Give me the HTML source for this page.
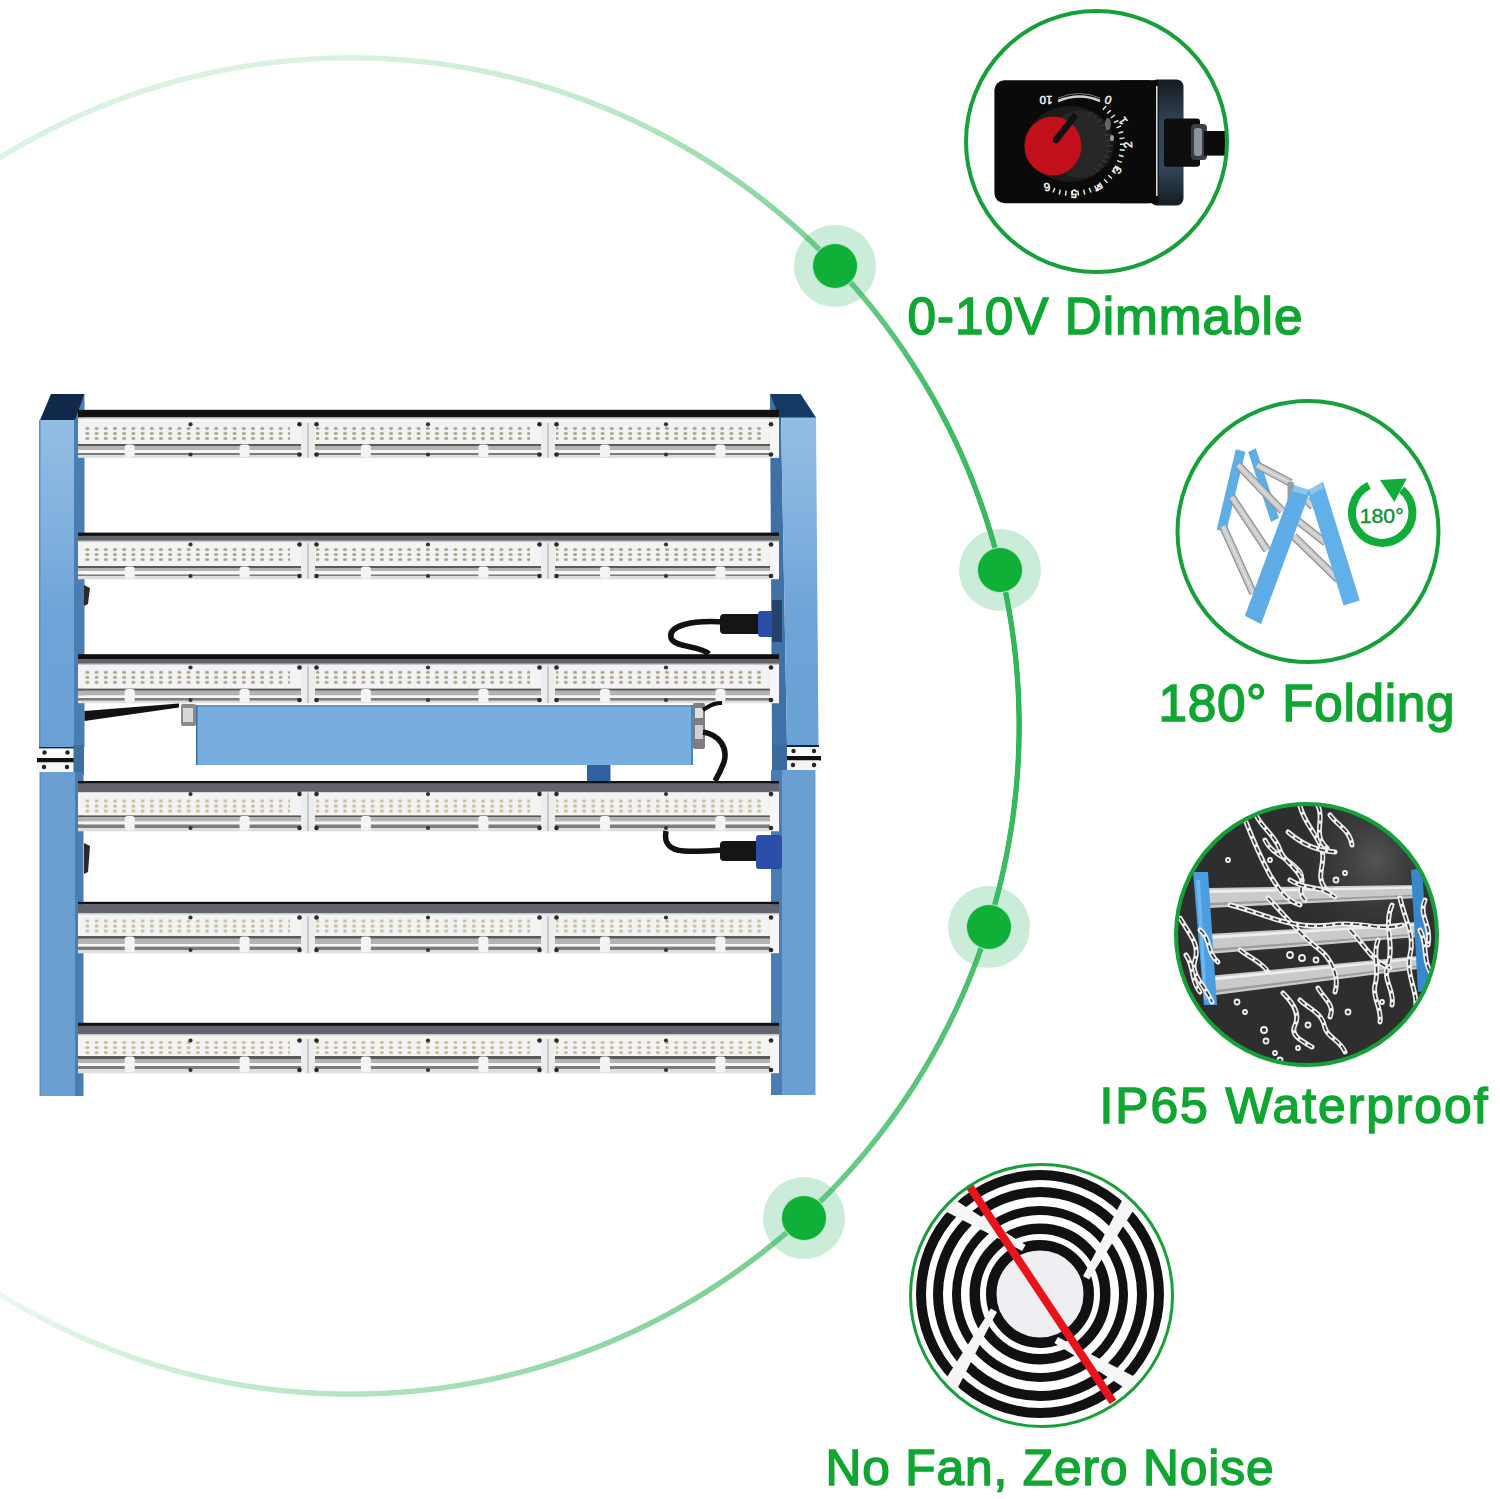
<!DOCTYPE html>
<html><head><meta charset="utf-8">
<style>
html,body{margin:0;padding:0;background:#fff;width:1500px;height:1499px;overflow:hidden}
svg{display:block;position:absolute;left:0;top:0}
text{font-family:"Liberation Sans",sans-serif}
</style></head>
<body>
<div id="arc" style="position:absolute;left:0;top:0;width:1500px;height:1499px;background:conic-gradient(from 0deg at 351px 726px, #dbf2e2 0deg, #c4ead0 20deg, #89d6a0 40deg, #42bc67 61deg, #2db556 90deg, #57c478 120deg, #90d8a5 158deg, #c8ecd3 193deg, #ecf8f0 212deg, #f4fbf7 270deg, #dbf2e2 328deg, #dbf2e2 360deg);-webkit-mask-image:radial-gradient(circle at 351px 726px, transparent 665px, #000 665.8px, #000 670.4px, transparent 671.2px);mask-image:radial-gradient(circle at 351px 726px, transparent 665px, #000 665.8px, #000 670.4px, transparent 671.2px);"></div>
<svg width="1500" height="1499" viewBox="0 0 1500 1499">

<defs>
  <linearGradient id="arcg" x1="0" y1="0" x2="1020" y2="0" gradientUnits="userSpaceOnUse">
    <stop offset="0" stop-color="#d6f0e4"/>
    <stop offset="0.57" stop-color="#bfe9d3"/>
    <stop offset="0.765" stop-color="#80d9a0"/>
    <stop offset="0.92" stop-color="#3cc060"/>
    <stop offset="1" stop-color="#2fb757"/>
  </linearGradient>
  <pattern id="leds" x="0" y="0" width="9" height="15" patternUnits="userSpaceOnUse">
    <ellipse cx="4.5" cy="2.5" rx="1.6" ry="1.2" fill="#d9cca8"/>
    <ellipse cx="4.5" cy="7.5" rx="1.6" ry="1.2" fill="#d9cca8"/>
    <ellipse cx="4.5" cy="12.5" rx="1.6" ry="1.2" fill="#d9cca8"/>
  </pattern>
  <linearGradient id="strip" x1="0" y1="0" x2="0" y2="1">
    <stop offset="0" stop-color="#0c0c0c"/>
    <stop offset="0.55" stop-color="#1c1c1c"/>
    <stop offset="1" stop-color="#6a6a6a"/>
  </linearGradient>
  <linearGradient id="postg" x1="0" y1="417" x2="0" y2="745" gradientUnits="userSpaceOnUse">
    <stop offset="0" stop-color="#94bde4"/>
    <stop offset="0.35" stop-color="#80b0de"/>
    <stop offset="0.6" stop-color="#6ea4d8"/>
    <stop offset="1" stop-color="#6aa2d6"/>
  </linearGradient>
  <clipPath id="c3"><circle cx="1306.5" cy="934.5" r="131"/></clipPath>
  <clipPath id="c4"><circle cx="1041.5" cy="1295.5" r="131"/></clipPath>
  <clipPath id="c1"><circle cx="1096.5" cy="141.5" r="130"/></clipPath>
</defs>

<circle cx="835" cy="266" r="41" fill="#36b46a" fill-opacity="0.26"/><circle cx="835" cy="266" r="23" fill="#aee8c2"/><circle cx="835" cy="266" r="22" fill="#0faf38"/>
<circle cx="1000" cy="570" r="41" fill="#36b46a" fill-opacity="0.26"/><circle cx="1000" cy="570" r="23" fill="#aee8c2"/><circle cx="1000" cy="570" r="22" fill="#0faf38"/>
<circle cx="989" cy="927" r="41" fill="#36b46a" fill-opacity="0.26"/><circle cx="989" cy="927" r="23" fill="#aee8c2"/><circle cx="989" cy="927" r="22" fill="#0faf38"/>
<circle cx="804" cy="1218" r="41" fill="#36b46a" fill-opacity="0.26"/><circle cx="804" cy="1218" r="23" fill="#aee8c2"/><circle cx="804" cy="1218" r="22" fill="#0faf38"/>
<g id="posts">
<polygon points="74,420 84.5,394 84.5,747 74,747" fill="#4a7db2"/>
<rect x="39.5" y="420" width="34.5" height="327" fill="url(#postg)"/>
<rect x="39" y="420" width="1.5" height="327" fill="#5d8fc3"/>
<polygon points="51,394 84.5,394 75,420 40,420" fill="#10294a"/>
<rect x="73" y="745" width="11" height="30" fill="#3f6f9f"/>
<rect x="39" y="747" width="34.5" height="1.8" fill="#0d2440"/>
<rect x="39" y="748.5" width="34.5" height="9.5" fill="#fbfbfb"/>
<rect x="37" y="758" width="36.5" height="4.5" fill="#111"/>
<rect x="37" y="762.5" width="36.5" height="9.5" fill="#f7f7f7"/>
<circle cx="44.5" cy="752.5" r="2.2" fill="#222"/>
<circle cx="67.5" cy="752.5" r="2.2" fill="#222"/>
<circle cx="44" cy="767" r="2.2" fill="#222"/>
<circle cx="67" cy="767" r="2.2" fill="#222"/>
<polygon points="75,772 83.5,772 83.5,1096 75,1096" fill="#4a7db2"/>
<rect x="40" y="772" width="35" height="324" fill="#6aa0d1"/>
<rect x="39.5" y="772" width="1.5" height="324" fill="#5d8fc3"/>
<polygon points="770,394 781,417 787,745 772,745" fill="#3f70a6"/>
<polygon points="781,417 816,417 818.5,745 787,745" fill="url(#postg)"/>
<polygon points="770,394 800.6,394 816,417.5 779.5,417.5" fill="#143a66"/>
<rect x="772" y="745" width="15" height="27" fill="#3a6a9e"/>
<rect x="787" y="745" width="32" height="2" fill="#0d2440"/>
<rect x="787" y="747" width="32" height="9" fill="#fafafa"/>
<rect x="787" y="756" width="34" height="4.5" fill="#111"/>
<rect x="787" y="760.5" width="32" height="9" fill="#f4f4f4"/>
<circle cx="793.5" cy="751" r="2.2" fill="#222"/>
<circle cx="814" cy="751" r="2.2" fill="#222"/>
<circle cx="793" cy="765" r="2.2" fill="#222"/>
<circle cx="814" cy="765" r="2.2" fill="#222"/>
<polygon points="771,770 782,770 782,1095 771,1095" fill="#4a7db2"/>
<rect x="782" y="770" width="33.5" height="325" fill="#6aa0d1"/>
</g>
<g>
<rect x="78" y="409.8" width="701" height="7.8" fill="#111"/>
<rect x="78" y="417.3" width="701" height="5.8" fill="#c9c9c9"/>
<rect x="78" y="418.8" width="701" height="4.0" fill="#f6f6f6"/>
<rect x="78" y="422.8" width="701" height="21.5" fill="#f3f3f3"/>
<rect x="78" y="444.0" width="701" height="2.3" fill="#5a5a5a"/>
<rect x="78" y="446.0" width="701" height="4.3" fill="#b4b4b4"/>
<rect x="78" y="450.0" width="701" height="3.3" fill="#f6f6f6"/>
<rect x="78" y="453.0" width="701" height="2.3" fill="#7c7c7c"/>
<rect x="78" y="455.0" width="701" height="2.8" fill="#dedede"/>
<pattern id="led0" x="0" y="425.9" width="9.2" height="15" patternUnits="userSpaceOnUse"><ellipse cx="4.6" cy="2.5" rx="2.1" ry="1.5" fill="#aaa488"/><ellipse cx="4.6" cy="7.5" rx="2.1" ry="1.5" fill="#aaa488"/><ellipse cx="4.6" cy="12.5" rx="2.1" ry="1.5" fill="#aaa488"/></pattern>
<rect x="81" y="425.9" width="209" height="15" fill="url(#led0)"/>
<circle cx="190.5" cy="424.3" r="2.1" fill="#333"/>
<circle cx="190.5" cy="454.5" r="2.1" fill="#333"/>
<rect x="124.7" y="444.5" width="10" height="12.5" rx="3" fill="#f4f4f4"/>
<rect x="239.6" y="444.5" width="10" height="12.5" rx="3" fill="#f4f4f4"/>
<rect x="316" y="425.9" width="214" height="15" fill="url(#led0)"/>
<circle cx="428.0" cy="424.3" r="2.1" fill="#333"/>
<circle cx="428.0" cy="454.5" r="2.1" fill="#333"/>
<rect x="360.9" y="444.5" width="10" height="12.5" rx="3" fill="#f4f4f4"/>
<rect x="478.4" y="444.5" width="10" height="12.5" rx="3" fill="#f4f4f4"/>
<rect x="556" y="425.9" width="210" height="15" fill="url(#led0)"/>
<circle cx="666.0" cy="424.3" r="2.1" fill="#333"/>
<circle cx="666.0" cy="454.5" r="2.1" fill="#333"/>
<rect x="600.0" y="444.5" width="10" height="12.5" rx="3" fill="#f4f4f4"/>
<rect x="715.4" y="444.5" width="10" height="12.5" rx="3" fill="#f4f4f4"/>
<rect x="301" y="421.8" width="14" height="35.7" fill="#ededed"/>
<rect x="307.4" y="422.8" width="1.2" height="34.7" fill="#b0b0b0"/>
<circle cx="299.5" cy="424.3" r="2.3" fill="#2a2a2a"/>
<circle cx="299.5" cy="454.5" r="2.3" fill="#2a2a2a"/>
<circle cx="316.5" cy="424.3" r="2.3" fill="#2a2a2a"/>
<circle cx="316.5" cy="454.5" r="2.3" fill="#2a2a2a"/>
<rect x="541" y="421.8" width="14" height="35.7" fill="#ededed"/>
<rect x="547.4" y="422.8" width="1.2" height="34.7" fill="#b0b0b0"/>
<circle cx="539.5" cy="424.3" r="2.3" fill="#2a2a2a"/>
<circle cx="539.5" cy="454.5" r="2.3" fill="#2a2a2a"/>
<circle cx="556.5" cy="424.3" r="2.3" fill="#2a2a2a"/>
<circle cx="556.5" cy="454.5" r="2.3" fill="#2a2a2a"/>
<rect x="770" y="421.8" width="9" height="35.7" fill="#f6f6f6"/>
<circle cx="771" cy="424.3" r="2.3" fill="#2a2a2a"/>
<circle cx="771" cy="454.5" r="2.3" fill="#2a2a2a"/>
</g>
<g>
<rect x="78" y="532.6" width="701" height="3.5" fill="#111"/>
<rect x="78" y="535.8" width="701" height="5.1" fill="#62656d"/>
<rect x="78" y="540.6" width="701" height="2.7" fill="#c9c9c9"/>
<rect x="78" y="542.1" width="701" height="0.9" fill="#f6f6f6"/>
<rect x="78" y="543.0" width="701" height="23.3" fill="#f3f3f3"/>
<rect x="78" y="566.0" width="701" height="2.3" fill="#5a5a5a"/>
<rect x="78" y="568.0" width="701" height="3.3" fill="#b4b4b4"/>
<rect x="78" y="571.0" width="701" height="3.8" fill="#f6f6f6"/>
<rect x="78" y="574.5" width="701" height="1.8" fill="#7c7c7c"/>
<rect x="78" y="576.0" width="701" height="3.3" fill="#dedede"/>
<pattern id="led1" x="0" y="547.0" width="9.2" height="15" patternUnits="userSpaceOnUse"><ellipse cx="4.6" cy="2.5" rx="2.1" ry="1.5" fill="#aaa488"/><ellipse cx="4.6" cy="7.5" rx="2.1" ry="1.5" fill="#aaa488"/><ellipse cx="4.6" cy="12.5" rx="2.1" ry="1.5" fill="#aaa488"/></pattern>
<rect x="81" y="547.0" width="209" height="15" fill="url(#led1)"/>
<circle cx="190.5" cy="544.5" r="2.1" fill="#333"/>
<circle cx="190.5" cy="576.0" r="2.1" fill="#333"/>
<rect x="124.7" y="566.5" width="10" height="12.0" rx="3" fill="#f4f4f4"/>
<rect x="239.6" y="566.5" width="10" height="12.0" rx="3" fill="#f4f4f4"/>
<rect x="316" y="547.0" width="214" height="15" fill="url(#led1)"/>
<circle cx="428.0" cy="544.5" r="2.1" fill="#333"/>
<circle cx="428.0" cy="576.0" r="2.1" fill="#333"/>
<rect x="360.9" y="566.5" width="10" height="12.0" rx="3" fill="#f4f4f4"/>
<rect x="478.4" y="566.5" width="10" height="12.0" rx="3" fill="#f4f4f4"/>
<rect x="556" y="547.0" width="210" height="15" fill="url(#led1)"/>
<circle cx="666.0" cy="544.5" r="2.1" fill="#333"/>
<circle cx="666.0" cy="576.0" r="2.1" fill="#333"/>
<rect x="600.0" y="566.5" width="10" height="12.0" rx="3" fill="#f4f4f4"/>
<rect x="715.4" y="566.5" width="10" height="12.0" rx="3" fill="#f4f4f4"/>
<rect x="301" y="542.0" width="14" height="37.0" fill="#ededed"/>
<rect x="307.4" y="543.0" width="1.2" height="36.0" fill="#b0b0b0"/>
<circle cx="299.5" cy="544.5" r="2.3" fill="#2a2a2a"/>
<circle cx="299.5" cy="576.0" r="2.3" fill="#2a2a2a"/>
<circle cx="316.5" cy="544.5" r="2.3" fill="#2a2a2a"/>
<circle cx="316.5" cy="576.0" r="2.3" fill="#2a2a2a"/>
<rect x="541" y="542.0" width="14" height="37.0" fill="#ededed"/>
<rect x="547.4" y="543.0" width="1.2" height="36.0" fill="#b0b0b0"/>
<circle cx="539.5" cy="544.5" r="2.3" fill="#2a2a2a"/>
<circle cx="539.5" cy="576.0" r="2.3" fill="#2a2a2a"/>
<circle cx="556.5" cy="544.5" r="2.3" fill="#2a2a2a"/>
<circle cx="556.5" cy="576.0" r="2.3" fill="#2a2a2a"/>
<rect x="770" y="542.0" width="9" height="37.0" fill="#f6f6f6"/>
<circle cx="771" cy="544.5" r="2.3" fill="#2a2a2a"/>
<circle cx="771" cy="576.0" r="2.3" fill="#2a2a2a"/>
</g>
<g>
<rect x="78" y="654.2" width="701" height="5.1" fill="#111"/>
<rect x="78" y="659.0" width="701" height="4.9" fill="#62656d"/>
<rect x="78" y="663.6" width="701" height="2.7" fill="#c9c9c9"/>
<rect x="78" y="665.1" width="701" height="0.9" fill="#f6f6f6"/>
<rect x="78" y="666.0" width="701" height="22.9" fill="#f3f3f3"/>
<rect x="78" y="688.6" width="701" height="2.3" fill="#5a5a5a"/>
<rect x="78" y="690.6" width="701" height="5.1" fill="#b4b4b4"/>
<rect x="78" y="695.4" width="701" height="2.9" fill="#f6f6f6"/>
<rect x="78" y="698.0" width="701" height="2.9" fill="#7c7c7c"/>
<rect x="78" y="700.6" width="701" height="2.7" fill="#dedede"/>
<pattern id="led2" x="0" y="669.8" width="9.2" height="15" patternUnits="userSpaceOnUse"><ellipse cx="4.6" cy="2.5" rx="2.1" ry="1.5" fill="#aaa488"/><ellipse cx="4.6" cy="7.5" rx="2.1" ry="1.5" fill="#aaa488"/><ellipse cx="4.6" cy="12.5" rx="2.1" ry="1.5" fill="#aaa488"/></pattern>
<rect x="81" y="669.8" width="209" height="15" fill="url(#led2)"/>
<circle cx="190.5" cy="667.5" r="2.1" fill="#333"/>
<circle cx="190.5" cy="700.0" r="2.1" fill="#333"/>
<rect x="124.7" y="689.1" width="10" height="13.4" rx="3" fill="#f4f4f4"/>
<rect x="239.6" y="689.1" width="10" height="13.4" rx="3" fill="#f4f4f4"/>
<rect x="316" y="669.8" width="214" height="15" fill="url(#led2)"/>
<circle cx="428.0" cy="667.5" r="2.1" fill="#333"/>
<circle cx="428.0" cy="700.0" r="2.1" fill="#333"/>
<rect x="360.9" y="689.1" width="10" height="13.4" rx="3" fill="#f4f4f4"/>
<rect x="478.4" y="689.1" width="10" height="13.4" rx="3" fill="#f4f4f4"/>
<rect x="556" y="669.8" width="210" height="15" fill="url(#led2)"/>
<circle cx="666.0" cy="667.5" r="2.1" fill="#333"/>
<circle cx="666.0" cy="700.0" r="2.1" fill="#333"/>
<rect x="600.0" y="689.1" width="10" height="13.4" rx="3" fill="#f4f4f4"/>
<rect x="715.4" y="689.1" width="10" height="13.4" rx="3" fill="#f4f4f4"/>
<rect x="301" y="665.0" width="14" height="38.0" fill="#ededed"/>
<rect x="307.4" y="666.0" width="1.2" height="37.0" fill="#b0b0b0"/>
<circle cx="299.5" cy="667.5" r="2.3" fill="#2a2a2a"/>
<circle cx="299.5" cy="700.0" r="2.3" fill="#2a2a2a"/>
<circle cx="316.5" cy="667.5" r="2.3" fill="#2a2a2a"/>
<circle cx="316.5" cy="700.0" r="2.3" fill="#2a2a2a"/>
<rect x="541" y="665.0" width="14" height="38.0" fill="#ededed"/>
<rect x="547.4" y="666.0" width="1.2" height="37.0" fill="#b0b0b0"/>
<circle cx="539.5" cy="667.5" r="2.3" fill="#2a2a2a"/>
<circle cx="539.5" cy="700.0" r="2.3" fill="#2a2a2a"/>
<circle cx="556.5" cy="667.5" r="2.3" fill="#2a2a2a"/>
<circle cx="556.5" cy="700.0" r="2.3" fill="#2a2a2a"/>
<rect x="770" y="665.0" width="9" height="38.0" fill="#f6f6f6"/>
<circle cx="771" cy="667.5" r="2.3" fill="#2a2a2a"/>
<circle cx="771" cy="700.0" r="2.3" fill="#2a2a2a"/>
</g>
<g>
<rect x="78" y="781.0" width="701" height="2.8" fill="#111"/>
<rect x="78" y="783.5" width="701" height="8.8" fill="#62656d"/>
<rect x="78" y="792.0" width="701" height="0.9" fill="#c9c9c9"/>
<rect x="78" y="792.6" width="701" height="23.1" fill="#f3f3f3"/>
<rect x="78" y="815.4" width="701" height="1.9" fill="#5a5a5a"/>
<rect x="78" y="817.0" width="701" height="4.8" fill="#b4b4b4"/>
<rect x="78" y="821.5" width="701" height="3.3" fill="#f6f6f6"/>
<rect x="78" y="824.5" width="701" height="3.8" fill="#7c7c7c"/>
<rect x="78" y="828.0" width="701" height="3.3" fill="#dedede"/>
<pattern id="led3" x="0" y="798.5" width="9.2" height="15" patternUnits="userSpaceOnUse"><ellipse cx="4.6" cy="2.5" rx="2.1" ry="1.5" fill="#c9bc9c"/><ellipse cx="4.6" cy="7.5" rx="2.1" ry="1.5" fill="#c9bc9c"/><ellipse cx="4.6" cy="12.5" rx="2.1" ry="1.5" fill="#c9bc9c"/></pattern>
<rect x="81" y="798.5" width="209" height="15" fill="url(#led3)"/>
<circle cx="190.5" cy="794.1" r="2.1" fill="#333"/>
<circle cx="190.5" cy="828.0" r="2.1" fill="#333"/>
<rect x="124.7" y="815.9" width="10" height="14.6" rx="3" fill="#f4f4f4"/>
<rect x="239.6" y="815.9" width="10" height="14.6" rx="3" fill="#f4f4f4"/>
<rect x="316" y="798.5" width="214" height="15" fill="url(#led3)"/>
<circle cx="428.0" cy="794.1" r="2.1" fill="#333"/>
<circle cx="428.0" cy="828.0" r="2.1" fill="#333"/>
<rect x="360.9" y="815.9" width="10" height="14.6" rx="3" fill="#f4f4f4"/>
<rect x="478.4" y="815.9" width="10" height="14.6" rx="3" fill="#f4f4f4"/>
<rect x="556" y="798.5" width="210" height="15" fill="url(#led3)"/>
<circle cx="666.0" cy="794.1" r="2.1" fill="#333"/>
<circle cx="666.0" cy="828.0" r="2.1" fill="#333"/>
<rect x="600.0" y="815.9" width="10" height="14.6" rx="3" fill="#f4f4f4"/>
<rect x="715.4" y="815.9" width="10" height="14.6" rx="3" fill="#f4f4f4"/>
<rect x="301" y="791.6" width="14" height="39.4" fill="#ededed"/>
<rect x="307.4" y="792.6" width="1.2" height="38.4" fill="#b0b0b0"/>
<circle cx="299.5" cy="794.1" r="2.3" fill="#2a2a2a"/>
<circle cx="299.5" cy="828.0" r="2.3" fill="#2a2a2a"/>
<circle cx="316.5" cy="794.1" r="2.3" fill="#2a2a2a"/>
<circle cx="316.5" cy="828.0" r="2.3" fill="#2a2a2a"/>
<rect x="541" y="791.6" width="14" height="39.4" fill="#ededed"/>
<rect x="547.4" y="792.6" width="1.2" height="38.4" fill="#b0b0b0"/>
<circle cx="539.5" cy="794.1" r="2.3" fill="#2a2a2a"/>
<circle cx="539.5" cy="828.0" r="2.3" fill="#2a2a2a"/>
<circle cx="556.5" cy="794.1" r="2.3" fill="#2a2a2a"/>
<circle cx="556.5" cy="828.0" r="2.3" fill="#2a2a2a"/>
<rect x="770" y="791.6" width="9" height="39.4" fill="#f6f6f6"/>
<circle cx="771" cy="794.1" r="2.3" fill="#2a2a2a"/>
<circle cx="771" cy="828.0" r="2.3" fill="#2a2a2a"/>
</g>
<g>
<rect x="78" y="901.8" width="701" height="2.8" fill="#111"/>
<rect x="78" y="904.3" width="701" height="9.0" fill="#62656d"/>
<rect x="78" y="913.0" width="701" height="3.3" fill="#c9c9c9"/>
<rect x="78" y="914.5" width="701" height="1.5" fill="#f6f6f6"/>
<rect x="78" y="916.0" width="701" height="20.3" fill="#f3f3f3"/>
<rect x="78" y="936.0" width="701" height="2.9" fill="#5a5a5a"/>
<rect x="78" y="938.6" width="701" height="5.7" fill="#b4b4b4"/>
<rect x="78" y="944.0" width="701" height="2.9" fill="#f6f6f6"/>
<rect x="78" y="946.6" width="701" height="3.7" fill="#7c7c7c"/>
<rect x="78" y="950.0" width="701" height="3.3" fill="#dedede"/>
<pattern id="led4" x="0" y="918.5" width="9.2" height="15" patternUnits="userSpaceOnUse"><ellipse cx="4.6" cy="2.5" rx="2.1" ry="1.5" fill="#c9bc9c"/><ellipse cx="4.6" cy="7.5" rx="2.1" ry="1.5" fill="#c9bc9c"/><ellipse cx="4.6" cy="12.5" rx="2.1" ry="1.5" fill="#c9bc9c"/></pattern>
<rect x="81" y="918.5" width="209" height="15" fill="url(#led4)"/>
<circle cx="190.5" cy="917.5" r="2.1" fill="#333"/>
<circle cx="190.5" cy="950.0" r="2.1" fill="#333"/>
<rect x="124.7" y="936.5" width="10" height="16.0" rx="3" fill="#f4f4f4"/>
<rect x="239.6" y="936.5" width="10" height="16.0" rx="3" fill="#f4f4f4"/>
<rect x="316" y="918.5" width="214" height="15" fill="url(#led4)"/>
<circle cx="428.0" cy="917.5" r="2.1" fill="#333"/>
<circle cx="428.0" cy="950.0" r="2.1" fill="#333"/>
<rect x="360.9" y="936.5" width="10" height="16.0" rx="3" fill="#f4f4f4"/>
<rect x="478.4" y="936.5" width="10" height="16.0" rx="3" fill="#f4f4f4"/>
<rect x="556" y="918.5" width="210" height="15" fill="url(#led4)"/>
<circle cx="666.0" cy="917.5" r="2.1" fill="#333"/>
<circle cx="666.0" cy="950.0" r="2.1" fill="#333"/>
<rect x="600.0" y="936.5" width="10" height="16.0" rx="3" fill="#f4f4f4"/>
<rect x="715.4" y="936.5" width="10" height="16.0" rx="3" fill="#f4f4f4"/>
<rect x="301" y="915.0" width="14" height="38.0" fill="#ededed"/>
<rect x="307.4" y="916.0" width="1.2" height="37.0" fill="#b0b0b0"/>
<circle cx="299.5" cy="917.5" r="2.3" fill="#2a2a2a"/>
<circle cx="299.5" cy="950.0" r="2.3" fill="#2a2a2a"/>
<circle cx="316.5" cy="917.5" r="2.3" fill="#2a2a2a"/>
<circle cx="316.5" cy="950.0" r="2.3" fill="#2a2a2a"/>
<rect x="541" y="915.0" width="14" height="38.0" fill="#ededed"/>
<rect x="547.4" y="916.0" width="1.2" height="37.0" fill="#b0b0b0"/>
<circle cx="539.5" cy="917.5" r="2.3" fill="#2a2a2a"/>
<circle cx="539.5" cy="950.0" r="2.3" fill="#2a2a2a"/>
<circle cx="556.5" cy="917.5" r="2.3" fill="#2a2a2a"/>
<circle cx="556.5" cy="950.0" r="2.3" fill="#2a2a2a"/>
<rect x="770" y="915.0" width="9" height="38.0" fill="#f6f6f6"/>
<circle cx="771" cy="917.5" r="2.3" fill="#2a2a2a"/>
<circle cx="771" cy="950.0" r="2.3" fill="#2a2a2a"/>
</g>
<g>
<rect x="78" y="1022.8" width="701" height="3.3" fill="#111"/>
<rect x="78" y="1025.8" width="701" height="8.5" fill="#62656d"/>
<rect x="78" y="1034.0" width="701" height="5.3" fill="#c9c9c9"/>
<rect x="78" y="1035.5" width="701" height="3.5" fill="#f6f6f6"/>
<rect x="78" y="1039.0" width="701" height="17.3" fill="#f3f3f3"/>
<rect x="78" y="1056.0" width="701" height="3.3" fill="#5a5a5a"/>
<rect x="78" y="1059.0" width="701" height="4.3" fill="#b4b4b4"/>
<rect x="78" y="1063.0" width="701" height="3.3" fill="#f6f6f6"/>
<rect x="78" y="1066.0" width="701" height="3.3" fill="#7c7c7c"/>
<rect x="78" y="1069.0" width="701" height="4.3" fill="#dedede"/>
<pattern id="led5" x="0" y="1040.0" width="9.2" height="15" patternUnits="userSpaceOnUse"><ellipse cx="4.6" cy="2.5" rx="2.1" ry="1.5" fill="#c9bc9c"/><ellipse cx="4.6" cy="7.5" rx="2.1" ry="1.5" fill="#c9bc9c"/><ellipse cx="4.6" cy="12.5" rx="2.1" ry="1.5" fill="#c9bc9c"/></pattern>
<rect x="81" y="1040.0" width="209" height="15" fill="url(#led5)"/>
<circle cx="190.5" cy="1040.5" r="2.1" fill="#333"/>
<circle cx="190.5" cy="1070.0" r="2.1" fill="#333"/>
<rect x="124.7" y="1056.5" width="10" height="16.0" rx="3" fill="#f4f4f4"/>
<rect x="239.6" y="1056.5" width="10" height="16.0" rx="3" fill="#f4f4f4"/>
<rect x="316" y="1040.0" width="214" height="15" fill="url(#led5)"/>
<circle cx="428.0" cy="1040.5" r="2.1" fill="#333"/>
<circle cx="428.0" cy="1070.0" r="2.1" fill="#333"/>
<rect x="360.9" y="1056.5" width="10" height="16.0" rx="3" fill="#f4f4f4"/>
<rect x="478.4" y="1056.5" width="10" height="16.0" rx="3" fill="#f4f4f4"/>
<rect x="556" y="1040.0" width="210" height="15" fill="url(#led5)"/>
<circle cx="666.0" cy="1040.5" r="2.1" fill="#333"/>
<circle cx="666.0" cy="1070.0" r="2.1" fill="#333"/>
<rect x="600.0" y="1056.5" width="10" height="16.0" rx="3" fill="#f4f4f4"/>
<rect x="715.4" y="1056.5" width="10" height="16.0" rx="3" fill="#f4f4f4"/>
<rect x="301" y="1038.0" width="14" height="35.0" fill="#ededed"/>
<rect x="307.4" y="1039.0" width="1.2" height="34.0" fill="#b0b0b0"/>
<circle cx="299.5" cy="1040.5" r="2.3" fill="#2a2a2a"/>
<circle cx="299.5" cy="1070.0" r="2.3" fill="#2a2a2a"/>
<circle cx="316.5" cy="1040.5" r="2.3" fill="#2a2a2a"/>
<circle cx="316.5" cy="1070.0" r="2.3" fill="#2a2a2a"/>
<rect x="541" y="1038.0" width="14" height="35.0" fill="#ededed"/>
<rect x="547.4" y="1039.0" width="1.2" height="34.0" fill="#b0b0b0"/>
<circle cx="539.5" cy="1040.5" r="2.3" fill="#2a2a2a"/>
<circle cx="539.5" cy="1070.0" r="2.3" fill="#2a2a2a"/>
<circle cx="556.5" cy="1040.5" r="2.3" fill="#2a2a2a"/>
<circle cx="556.5" cy="1070.0" r="2.3" fill="#2a2a2a"/>
<rect x="770" y="1038.0" width="9" height="35.0" fill="#f6f6f6"/>
<circle cx="771" cy="1040.5" r="2.3" fill="#2a2a2a"/>
<circle cx="771" cy="1070.0" r="2.3" fill="#2a2a2a"/>
</g>
<g id="driver">
<rect x="587" y="764" width="23.5" height="17" fill="#2d63a0"/>
<rect x="196" y="705" width="497" height="60" fill="#78addf"/>
<rect x="196" y="705" width="497" height="2" fill="#5f95cb"/>
<rect x="196" y="705" width="1.5" height="60" fill="#3c6ea6"/>
<rect x="691" y="705" width="2" height="60" fill="#4f85bd"/>
<rect x="181" y="704" width="15" height="22" rx="2" fill="#8a8a8a"/>
<rect x="183" y="708" width="10" height="14" fill="#d8d8d8"/>
<polygon points="84.5,711 179,703.5 179,707.5 84.5,721" fill="#121212"/>
<rect x="693" y="703" width="12" height="46" rx="2" fill="#7e7e7e"/>
<rect x="695" y="708" width="8" height="10" fill="#e0e0e0"/>
<rect x="695" y="725" width="8" height="14" fill="#d0d0d0"/>
<path d="M703,710 C712,704 716,703 722,703" stroke="#111" stroke-width="4" fill="none"/>
<path d="M703,732 C720,735 728,748 724,762 C721,770 718,776 715,781" stroke="#111" stroke-width="5.5" fill="none"/>
</g>
<g id="conn1">
<path d="M724,622 C690,620 668,626 671,638 C674,648 700,645 709,654" stroke="#111" stroke-width="5.5" fill="none"/>
<rect x="720" y="614" width="42" height="20" rx="4" fill="#151515"/>
<rect x="758" y="611" width="23" height="26" rx="3" fill="#2b4ea8"/>
<rect x="772" y="600" width="10" height="42" fill="#26436e"/>
</g>
<g id="conn2">
<path d="M666,831 C664,842 668,850 684,851 C700,852 710,851 724,850" stroke="#111" stroke-width="5.5" fill="none"/>
<rect x="720" y="841" width="42" height="20" rx="4" fill="#151515"/>
<rect x="756" y="835" width="26" height="34" rx="3" fill="#2b4ea8"/>
</g>
<path d="M84,585 L90,588 L88,604 L84,606 Z" fill="#2a2a2a"/>
<path d="M84,843 L90,846 L88,872 L84,874 Z" fill="#2a2a2a"/>
<g id="dimmer">
<linearGradient id="sidegr" x1="0" y1="0" x2="0" y2="1"><stop offset="0" stop-color="#141a20"/><stop offset="0.3" stop-color="#2f4152"/><stop offset="0.7" stop-color="#31465a"/><stop offset="1" stop-color="#151b22"/></linearGradient>
<rect x="1150" y="79.5" width="33.5" height="126" rx="7" fill="url(#sidegr)"/>
<rect x="994.4" y="80.2" width="164" height="123" rx="10" fill="#0a0a0a"/>
<rect x="1120" y="80.2" width="38.4" height="123" fill="#0a0a0a"/>
<rect x="1156" y="86" width="1.6" height="110" fill="#d8d8d8"/>
<rect x="1164" y="118.4" width="36" height="48.3" rx="3" fill="#0d0d0d"/>
<rect x="1191" y="124" width="16" height="36" rx="4" fill="#3a3f46"/>
<rect x="1194" y="128" width="8" height="28" rx="3" fill="#8d939b"/>
<rect x="1204" y="131" width="22" height="24.6" fill="#0b0b0b"/>
<ellipse cx="1070" cy="144" rx="44" ry="38" fill="#1b1b1b"/>
<ellipse cx="1080" cy="144" rx="30" ry="34" fill="#262626"/>
<line x1="1088.0" y1="116.3" x2="1091.5" y2="112.0" stroke="#3c3c3c" stroke-width="1"/>
<line x1="1092.7" y1="119.1" x2="1097.1" y2="115.2" stroke="#3c3c3c" stroke-width="1"/>
<line x1="1096.8" y1="122.6" x2="1102.0" y2="119.2" stroke="#3c3c3c" stroke-width="1"/>
<line x1="1100.2" y1="126.6" x2="1106.1" y2="123.8" stroke="#3c3c3c" stroke-width="1"/>
<line x1="1102.9" y1="131.0" x2="1109.3" y2="129.0" stroke="#3c3c3c" stroke-width="1"/>
<line x1="1104.8" y1="135.7" x2="1111.5" y2="134.4" stroke="#3c3c3c" stroke-width="1"/>
<line x1="1105.8" y1="140.7" x2="1112.8" y2="140.1" stroke="#3c3c3c" stroke-width="1"/>
<line x1="1106.0" y1="145.7" x2="1112.9" y2="145.9" stroke="#3c3c3c" stroke-width="1"/>
<line x1="1105.2" y1="150.7" x2="1112.1" y2="151.7" stroke="#3c3c3c" stroke-width="1"/>
<line x1="1103.6" y1="155.5" x2="1110.1" y2="157.3" stroke="#3c3c3c" stroke-width="1"/>
<line x1="1101.2" y1="160.0" x2="1107.2" y2="162.5" stroke="#3c3c3c" stroke-width="1"/>
<line x1="1098.0" y1="164.1" x2="1103.4" y2="167.3" stroke="#3c3c3c" stroke-width="1"/>
<line x1="1094.1" y1="167.8" x2="1098.8" y2="171.5" stroke="#3c3c3c" stroke-width="1"/>
<line x1="1089.6" y1="170.8" x2="1093.4" y2="175.0" stroke="#3c3c3c" stroke-width="1"/>
<ellipse cx="1108" cy="124" rx="3" ry="6" fill="#8a8a8a" opacity="0.7"/>
<ellipse cx="1112" cy="138" rx="2" ry="3" fill="#bdbdbd" opacity="0.8"/>
<ellipse cx="1052.9" cy="145.9" rx="28.5" ry="29.5" fill="#c10f1c"/>
<line x1="1056" y1="140" x2="1074" y2="117" stroke="#111" stroke-width="6.5" stroke-linecap="round"/>
<path d="M1058,101 Q1080,92 1100,101" stroke="#d0d0d0" stroke-width="2.5" fill="none"/>
<path d="M1058,98 Q1080,89 1100,98" stroke="#777" stroke-width="1" fill="none"/>
<line x1="1102.9" y1="109.8" x2="1106.1" y2="105.9" stroke="#f2f2f2" stroke-width="1.4"/>
<line x1="1107.1" y1="113.6" x2="1110.8" y2="110.2" stroke="#f2f2f2" stroke-width="1.4"/>
<line x1="1110.8" y1="118.0" x2="1114.9" y2="115.0" stroke="#f2f2f2" stroke-width="1.4"/>
<line x1="1114.0" y1="122.7" x2="1118.4" y2="120.3" stroke="#f2f2f2" stroke-width="1.4"/>
<line x1="1116.5" y1="127.8" x2="1121.1" y2="125.9" stroke="#f2f2f2" stroke-width="1.4"/>
<line x1="1118.4" y1="133.1" x2="1123.2" y2="131.8" stroke="#f2f2f2" stroke-width="1.4"/>
<line x1="1119.5" y1="138.6" x2="1124.5" y2="137.9" stroke="#f2f2f2" stroke-width="1.4"/>
<line x1="1120.0" y1="144.2" x2="1125.0" y2="144.1" stroke="#f2f2f2" stroke-width="1.4"/>
<line x1="1119.7" y1="149.8" x2="1124.7" y2="150.3" stroke="#f2f2f2" stroke-width="1.4"/>
<line x1="1118.8" y1="155.3" x2="1123.6" y2="156.5" stroke="#f2f2f2" stroke-width="1.4"/>
<line x1="1117.1" y1="160.7" x2="1121.8" y2="162.4" stroke="#f2f2f2" stroke-width="1.4"/>
<line x1="1114.8" y1="165.9" x2="1119.2" y2="168.2" stroke="#f2f2f2" stroke-width="1.4"/>
<line x1="1111.8" y1="170.7" x2="1115.9" y2="173.5" stroke="#f2f2f2" stroke-width="1.4"/>
<line x1="1108.2" y1="175.2" x2="1112.0" y2="178.5" stroke="#f2f2f2" stroke-width="1.4"/>
<line x1="1104.1" y1="179.2" x2="1107.5" y2="182.9" stroke="#f2f2f2" stroke-width="1.4"/>
<line x1="1099.5" y1="182.7" x2="1102.4" y2="186.8" stroke="#f2f2f2" stroke-width="1.4"/>
<line x1="1094.5" y1="185.6" x2="1096.9" y2="190.0" stroke="#f2f2f2" stroke-width="1.4"/>
<line x1="1089.2" y1="187.9" x2="1091.0" y2="192.6" stroke="#f2f2f2" stroke-width="1.4"/>
<line x1="1083.6" y1="189.6" x2="1084.8" y2="194.5" stroke="#f2f2f2" stroke-width="1.4"/>
<line x1="1077.8" y1="190.7" x2="1078.5" y2="195.6" stroke="#f2f2f2" stroke-width="1.4"/>
<line x1="1072.0" y1="191.0" x2="1072.0" y2="196.0" stroke="#f2f2f2" stroke-width="1.4"/>
<line x1="1066.2" y1="190.7" x2="1065.5" y2="195.6" stroke="#f2f2f2" stroke-width="1.4"/>
<line x1="1060.4" y1="189.6" x2="1059.2" y2="194.5" stroke="#f2f2f2" stroke-width="1.4"/>
<line x1="1054.8" y1="187.9" x2="1053.0" y2="192.6" stroke="#f2f2f2" stroke-width="1.4"/>
<text x="1046" y="100" font-size="11.5" fill="#f4f4f4" stroke="#f4f4f4" stroke-width="0.5" text-anchor="middle" dominant-baseline="central" transform="rotate(180 1046 100)">10</text>
<text x="1108" y="100" font-size="11.5" fill="#f4f4f4" stroke="#f4f4f4" stroke-width="0.5" text-anchor="middle" dominant-baseline="central" transform="rotate(200 1108 100)">0</text>
<text x="1123" y="121" font-size="11.5" fill="#f4f4f4" stroke="#f4f4f4" stroke-width="0.5" text-anchor="middle" dominant-baseline="central" transform="rotate(235 1123 121)">1</text>
<text x="1128" y="145" font-size="11.5" fill="#f4f4f4" stroke="#f4f4f4" stroke-width="0.5" text-anchor="middle" dominant-baseline="central" transform="rotate(265 1128 145)">2</text>
<text x="1117" y="170" font-size="11.5" fill="#f4f4f4" stroke="#f4f4f4" stroke-width="0.5" text-anchor="middle" dominant-baseline="central" transform="rotate(290 1117 170)">3</text>
<text x="1099" y="188" font-size="11.5" fill="#f4f4f4" stroke="#f4f4f4" stroke-width="0.5" text-anchor="middle" dominant-baseline="central" transform="rotate(205 1099 188)">4</text>
<text x="1074" y="194" font-size="11.5" fill="#f4f4f4" stroke="#f4f4f4" stroke-width="0.5" text-anchor="middle" dominant-baseline="central" transform="rotate(185 1074 194)">5</text>
<text x="1047" y="187" font-size="11.5" fill="#f4f4f4" stroke="#f4f4f4" stroke-width="0.5" text-anchor="middle" dominant-baseline="central" transform="rotate(170 1047 187)">6</text>
</g>
<circle cx="1096.5" cy="141.5" r="130.5" fill="none" stroke="#17a03a" stroke-width="4"/>
<g id="fold">
<polygon points="1235.8,449.2 1245.4,451.7 1226.3,531.6 1216.7,529.7" fill="#5eaee6"/>
<polygon points="1248.2,452 1255.8,448.2 1279,518 1271,522" fill="#5eaee6"/>
<line x1="1257" y1="465.3" x2="1291" y2="483" stroke="#8f9193" stroke-width="8"/>
<line x1="1257" y1="465.3" x2="1291" y2="483" stroke="#c9cbcd" stroke-width="5.5"/>
<line x1="1257" y1="465.3" x2="1291" y2="483" stroke="#e6e6e6" stroke-width="1"/>
<line x1="1306.5" y1="499.6" x2="1313" y2="507" stroke="#8f9193" stroke-width="8"/>
<line x1="1306.5" y1="499.6" x2="1313" y2="507" stroke="#c9cbcd" stroke-width="5.5"/>
<line x1="1306.5" y1="499.6" x2="1313" y2="507" stroke="#e6e6e6" stroke-width="1"/>
<line x1="1295" y1="518.6" x2="1325.5" y2="542.7" stroke="#8f9193" stroke-width="8"/>
<line x1="1295" y1="518.6" x2="1325.5" y2="542.7" stroke="#c9cbcd" stroke-width="5.5"/>
<line x1="1295" y1="518.6" x2="1325.5" y2="542.7" stroke="#e6e6e6" stroke-width="1"/>
<line x1="1293.8" y1="536.3" x2="1338" y2="579.4" stroke="#8f9193" stroke-width="8"/>
<line x1="1293.8" y1="536.3" x2="1338" y2="579.4" stroke="#c9cbcd" stroke-width="5.5"/>
<line x1="1293.8" y1="536.3" x2="1338" y2="579.4" stroke="#e6e6e6" stroke-width="1"/>
<rect x="1287.5" y="482" width="6.3" height="18" fill="#9a9c9e"/>
<polygon points="1307.6,490.5 1323.1,482 1359.8,600.5 1343.6,605.5" fill="#62b0e8"/>
<polygon points="1309,490 1321.7,482.5 1324,488 1311,495" fill="#8cc6ef"/>
<line x1="1238" y1="465" x2="1282.4" y2="511" stroke="#8f9193" stroke-width="8"/>
<line x1="1238" y1="465" x2="1282.4" y2="511" stroke="#c9cbcd" stroke-width="5.5"/>
<line x1="1238" y1="465" x2="1282.4" y2="511" stroke="#e6e6e6" stroke-width="1"/>
<line x1="1231.7" y1="497" x2="1267.2" y2="550.3" stroke="#8f9193" stroke-width="8"/>
<line x1="1231.7" y1="497" x2="1267.2" y2="550.3" stroke="#c9cbcd" stroke-width="5.5"/>
<line x1="1231.7" y1="497" x2="1267.2" y2="550.3" stroke="#e6e6e6" stroke-width="1"/>
<line x1="1222.8" y1="526.2" x2="1253.2" y2="593.4" stroke="#8f9193" stroke-width="8"/>
<line x1="1222.8" y1="526.2" x2="1253.2" y2="593.4" stroke="#c9cbcd" stroke-width="5.5"/>
<line x1="1222.8" y1="526.2" x2="1253.2" y2="593.4" stroke="#e6e6e6" stroke-width="1"/>
<polygon points="1293,485.1 1310.4,490.5 1261,624.3 1244.9,615.7" fill="#5fade6"/>
<polygon points="1294.4,485.6 1309,490 1306,495 1292,491" fill="#8cc6ef"/>
<path d="M1401.6,489.5 A30.2,30.2 0 1,1 1369,485.5" stroke="#10ad3a" stroke-width="8" fill="none"/>
<polygon points="1380,480 1406.7,478.5 1394.4,502" fill="#10ad3a"/>
<text x="1359.7" y="522.6" font-size="20.5" fill="#0b922c" stroke="#0b922c" stroke-width="0.4" textLength="44" lengthAdjust="spacingAndGlyphs">180°</text>
</g>
<circle cx="1308" cy="531.5" r="130.5" fill="none" stroke="#17a03a" stroke-width="4"/>
<g clip-path="url(#c3)">
<radialGradient id="wg" cx="0.5" cy="0.5" r="0.5"><stop offset="0" stop-color="#555"/><stop offset="1" stop-color="#2f2f2f" stop-opacity="0"/></radialGradient>
<rect x="1170" y="798" width="275" height="275" fill="#2e2e2e"/>
<ellipse cx="1375" cy="860" rx="85" ry="95" fill="url(#wg)"/>
<polygon points="1208,888 1418,885 1418,898 1208,908" fill="#c8cacc"/>
<polygon points="1208,890 1418,886.5 1418,888.5 1208,893" fill="#eeeeee"/>
<polygon points="1208,903 1418,894.5 1418,896 1208,905.5" fill="#9a9c9e"/>
<polygon points="1208,934 1418,922 1418,937 1208,954" fill="#c8cacc"/>
<polygon points="1208,936 1418,923.5 1418,925.5 1208,939" fill="#eeeeee"/>
<polygon points="1208,949 1418,933.5 1418,935 1208,951.5" fill="#9a9c9e"/>
<polygon points="1208,976 1418,956 1418,969 1208,996" fill="#c8cacc"/>
<polygon points="1208,978 1418,957.5 1418,959.5 1208,981" fill="#eeeeee"/>
<polygon points="1208,991 1418,965.5 1418,967 1208,993.5" fill="#9a9c9e"/>
<polygon points="1193,872 1208,872 1217,1005 1204,1005" fill="#4a9ee0"/>
<polygon points="1196,880 1200,880 1207,1000 1204,1000" fill="#6fb6ee"/>
<polygon points="1411,870 1422,868 1430,990 1418,992" fill="#3a88cc"/>
<path d="M1246,822 C1255,845 1262,860 1270,875 C1278,888 1285,900 1300,905" stroke="#eeeeee" stroke-width="5" fill="none" stroke-linecap="round"/>
<path d="M1246,822 C1255,845 1262,860 1270,875 C1278,888 1285,900 1300,905" stroke="#333" stroke-width="1.6" fill="none" stroke-dasharray="6 3"/>
<path d="M1300,806 C1305,825 1318,835 1322,850 C1326,865 1315,875 1325,888" stroke="#eeeeee" stroke-width="5" fill="none" stroke-linecap="round"/>
<path d="M1300,806 C1305,825 1318,835 1322,850 C1326,865 1315,875 1325,888" stroke="#333" stroke-width="1.6" fill="none" stroke-dasharray="6 3"/>
<path d="M1288,832 C1300,842 1312,850 1335,852" stroke="#eeeeee" stroke-width="5" fill="none" stroke-linecap="round"/>
<path d="M1288,832 C1300,842 1312,850 1335,852" stroke="#333" stroke-width="1.6" fill="none" stroke-dasharray="6 3"/>
<path d="M1318,806 C1325,820 1312,835 1327,848" stroke="#eeeeee" stroke-width="5" fill="none" stroke-linecap="round"/>
<path d="M1318,806 C1325,820 1312,835 1327,848" stroke="#333" stroke-width="1.6" fill="none" stroke-dasharray="6 3"/>
<path d="M1265,840 C1272,855 1290,858 1300,872 C1306,882 1296,892 1305,900" stroke="#eeeeee" stroke-width="5" fill="none" stroke-linecap="round"/>
<path d="M1265,840 C1272,855 1290,858 1300,872 C1306,882 1296,892 1305,900" stroke="#333" stroke-width="1.6" fill="none" stroke-dasharray="6 3"/>
<path d="M1268,898 C1285,915 1300,935 1320,950 C1330,958 1340,975 1335,992" stroke="#eeeeee" stroke-width="5" fill="none" stroke-linecap="round"/>
<path d="M1268,898 C1285,915 1300,935 1320,950 C1330,958 1340,975 1335,992" stroke="#333" stroke-width="1.6" fill="none" stroke-dasharray="6 3"/>
<path d="M1400,898 C1405,920 1415,935 1410,955 C1405,975 1420,995 1415,1012" stroke="#eeeeee" stroke-width="5" fill="none" stroke-linecap="round"/>
<path d="M1400,898 C1405,920 1415,935 1410,955 C1405,975 1420,995 1415,1012" stroke="#333" stroke-width="1.6" fill="none" stroke-dasharray="6 3"/>
<path d="M1392,905 C1383,925 1395,945 1388,965 C1382,980 1395,990 1392,1005" stroke="#eeeeee" stroke-width="5" fill="none" stroke-linecap="round"/>
<path d="M1392,905 C1383,925 1395,945 1388,965 C1382,980 1395,990 1392,1005" stroke="#333" stroke-width="1.6" fill="none" stroke-dasharray="6 3"/>
<path d="M1180,918 C1190,935 1200,945 1195,960 C1190,975 1205,985 1212,1002" stroke="#eeeeee" stroke-width="5" fill="none" stroke-linecap="round"/>
<path d="M1180,918 C1190,935 1200,945 1195,960 C1190,975 1205,985 1212,1002" stroke="#333" stroke-width="1.6" fill="none" stroke-dasharray="6 3"/>
<path d="M1186,955 C1195,968 1190,980 1200,992" stroke="#eeeeee" stroke-width="5" fill="none" stroke-linecap="round"/>
<path d="M1186,955 C1195,968 1190,980 1200,992" stroke="#333" stroke-width="1.6" fill="none" stroke-dasharray="6 3"/>
<path d="M1283,993 C1295,1005 1300,1015 1295,1025 C1290,1035 1300,1040 1312,1047" stroke="#eeeeee" stroke-width="5" fill="none" stroke-linecap="round"/>
<path d="M1283,993 C1295,1005 1300,1015 1295,1025 C1290,1035 1300,1040 1312,1047" stroke="#333" stroke-width="1.6" fill="none" stroke-dasharray="6 3"/>
<path d="M1318,988 C1325,1000 1335,1005 1330,1017" stroke="#eeeeee" stroke-width="5" fill="none" stroke-linecap="round"/>
<path d="M1318,988 C1325,1000 1335,1005 1330,1017" stroke="#333" stroke-width="1.6" fill="none" stroke-dasharray="6 3"/>
<path d="M1230,905 C1260,912 1290,930 1330,925 C1360,920 1380,932 1402,925" stroke="#eeeeee" stroke-width="5" fill="none" stroke-linecap="round"/>
<path d="M1230,905 C1260,912 1290,930 1330,925 C1360,920 1380,932 1402,925" stroke="#333" stroke-width="1.6" fill="none" stroke-dasharray="6 3"/>
<path d="M1350,930 C1365,945 1372,962 1390,968" stroke="#eeeeee" stroke-width="5" fill="none" stroke-linecap="round"/>
<path d="M1350,930 C1365,945 1372,962 1390,968" stroke="#333" stroke-width="1.6" fill="none" stroke-dasharray="6 3"/>
<path d="M1240,950 C1250,958 1262,962 1268,972" stroke="#eeeeee" stroke-width="5" fill="none" stroke-linecap="round"/>
<path d="M1240,950 C1250,958 1262,962 1268,972" stroke="#333" stroke-width="1.6" fill="none" stroke-dasharray="6 3"/>
<path d="M1420,930 C1428,945 1422,960 1432,975" stroke="#eeeeee" stroke-width="5" fill="none" stroke-linecap="round"/>
<path d="M1420,930 C1428,945 1422,960 1432,975" stroke="#333" stroke-width="1.6" fill="none" stroke-dasharray="6 3"/>
<path d="M1256,815 C1262,828 1275,835 1280,850 C1284,862 1296,866 1302,880" stroke="#eeeeee" stroke-width="5" fill="none" stroke-linecap="round"/>
<path d="M1256,815 C1262,828 1275,835 1280,850 C1284,862 1296,866 1302,880" stroke="#333" stroke-width="1.6" fill="none" stroke-dasharray="6 3"/>
<path d="M1330,815 C1338,826 1350,830 1352,845" stroke="#eeeeee" stroke-width="5" fill="none" stroke-linecap="round"/>
<path d="M1330,815 C1338,826 1350,830 1352,845" stroke="#333" stroke-width="1.6" fill="none" stroke-dasharray="6 3"/>
<path d="M1378,940 C1372,955 1380,968 1375,985 C1372,998 1382,1008 1380,1022" stroke="#eeeeee" stroke-width="5" fill="none" stroke-linecap="round"/>
<path d="M1378,940 C1372,955 1380,968 1375,985 C1372,998 1382,1008 1380,1022" stroke="#333" stroke-width="1.6" fill="none" stroke-dasharray="6 3"/>
<path d="M1425,900 C1418,915 1432,925 1428,945" stroke="#eeeeee" stroke-width="5" fill="none" stroke-linecap="round"/>
<path d="M1425,900 C1418,915 1432,925 1428,945" stroke="#333" stroke-width="1.6" fill="none" stroke-dasharray="6 3"/>
<path d="M1300,1000 C1310,1010 1322,1012 1325,1028 C1328,1038 1340,1040 1345,1052" stroke="#eeeeee" stroke-width="5" fill="none" stroke-linecap="round"/>
<path d="M1300,1000 C1310,1010 1322,1012 1325,1028 C1328,1038 1340,1040 1345,1052" stroke="#333" stroke-width="1.6" fill="none" stroke-dasharray="6 3"/>
<path d="M1200,930 C1212,940 1206,952 1218,962" stroke="#eeeeee" stroke-width="5" fill="none" stroke-linecap="round"/>
<path d="M1200,930 C1212,940 1206,952 1218,962" stroke="#333" stroke-width="1.6" fill="none" stroke-dasharray="6 3"/>
<path d="M1290,880 C1305,890 1320,885 1335,897" stroke="#eeeeee" stroke-width="5" fill="none" stroke-linecap="round"/>
<path d="M1290,880 C1305,890 1320,885 1335,897" stroke="#333" stroke-width="1.6" fill="none" stroke-dasharray="6 3"/>
<circle cx="1264" cy="1030" r="3" fill="none" stroke="#eee" stroke-width="1.8"/>
<circle cx="1266" cy="1041" r="2.5" fill="none" stroke="#eee" stroke-width="1.8"/>
<circle cx="1280" cy="1060" r="2.5" fill="none" stroke="#eee" stroke-width="1.8"/>
<circle cx="1308" cy="1025" r="2.5" fill="none" stroke="#eee" stroke-width="1.8"/>
<circle cx="1348" cy="1012" r="2.5" fill="none" stroke="#eee" stroke-width="1.8"/>
<circle cx="1382" cy="1002" r="2" fill="none" stroke="#eee" stroke-width="1.8"/>
<circle cx="1237" cy="1002" r="2.5" fill="none" stroke="#eee" stroke-width="1.8"/>
<circle cx="1245" cy="1012" r="2" fill="none" stroke="#eee" stroke-width="1.8"/>
<circle cx="1275" cy="1053" r="2" fill="none" stroke="#eee" stroke-width="1.8"/>
<circle cx="1298" cy="1048" r="2" fill="none" stroke="#eee" stroke-width="1.8"/>
<circle cx="1228" cy="860" r="2" fill="none" stroke="#eee" stroke-width="1.8"/>
<circle cx="1270" cy="860" r="2" fill="none" stroke="#eee" stroke-width="1.8"/>
<circle cx="1290" cy="955" r="3" fill="none" stroke="#eee" stroke-width="1.8"/>
<circle cx="1302" cy="958" r="3" fill="none" stroke="#eee" stroke-width="1.8"/>
<circle cx="1316" cy="960" r="2.5" fill="none" stroke="#eee" stroke-width="1.8"/>
<circle cx="1336" cy="880" r="2.5" fill="none" stroke="#eee" stroke-width="1.8"/>
<circle cx="1345" cy="873" r="2" fill="none" stroke="#eee" stroke-width="1.8"/>
</g>
<circle cx="1306.5" cy="934.5" r="130.5" fill="none" stroke="#17a03a" stroke-width="4"/>
<g clip-path="url(#c4)">
<circle cx="1040" cy="1294" r="44" fill="#efeff3"/>
<circle cx="1040" cy="1294" r="48.75" fill="none" stroke="#111" stroke-width="10.5"/>
<circle cx="1040" cy="1294" r="65.25" fill="none" stroke="#111" stroke-width="10.5"/>
<circle cx="1040" cy="1294" r="83.5" fill="none" stroke="#111" stroke-width="9"/>
<circle cx="1040" cy="1294" r="102.0" fill="none" stroke="#111" stroke-width="10"/>
<circle cx="1040" cy="1294" r="119.0" fill="none" stroke="#111" stroke-width="10"/>
<polygon points="929.7,1203.0 954.5,1216.1 981.3,1229.7 1008.0,1243.4 1022.1,1251.0 1025.6,1244.9 1012.0,1236.5 986.7,1220.2 961.5,1203.9 937.7,1189.1" fill="#f6f6f8"/>
<polygon points="1131.0,1183.7 1117.9,1208.5 1104.3,1235.3 1090.6,1262.0 1083.0,1276.1 1089.1,1279.6 1097.5,1266.0 1113.8,1240.7 1130.1,1215.5 1144.9,1191.7" fill="#f6f6f8"/>
<polygon points="1150.3,1385.0 1125.5,1371.9 1098.7,1358.3 1072.0,1344.6 1057.9,1337.0 1054.4,1343.1 1068.0,1351.5 1093.3,1367.8 1118.5,1384.1 1142.3,1398.9" fill="#f6f6f8"/>
<polygon points="949.0,1404.3 962.1,1379.5 975.7,1352.7 989.4,1326.0 997.0,1311.9 990.9,1308.4 982.5,1322.0 966.2,1347.3 949.9,1372.5 935.1,1396.3" fill="#f6f6f8"/>
</g>
<line x1="970" y1="1187" x2="1113" y2="1402" stroke="#e8141c" stroke-width="8"/>
<circle cx="1041.5" cy="1295.5" r="131" fill="none" stroke="#17a03a" stroke-width="3"/>
<g fill="#10a632" stroke="#10a632" stroke-width="1.5" style="font-weight:normal">
<text x="907.5" y="333.7" font-size="51.3" textLength="395" lengthAdjust="spacing">0-10V Dimmable</text>
<text x="1158.5" y="720.6" font-size="51.3" textLength="296" lengthAdjust="spacing">180° Folding</text>
<text x="1099.5" y="1123.4" font-size="49.8" textLength="388" lengthAdjust="spacing">IP65 Waterproof</text>
<text x="825.5" y="1484.6" font-size="49.6" textLength="448" lengthAdjust="spacing">No Fan, Zero Noise</text>
</g>
</svg>
</body></html>
